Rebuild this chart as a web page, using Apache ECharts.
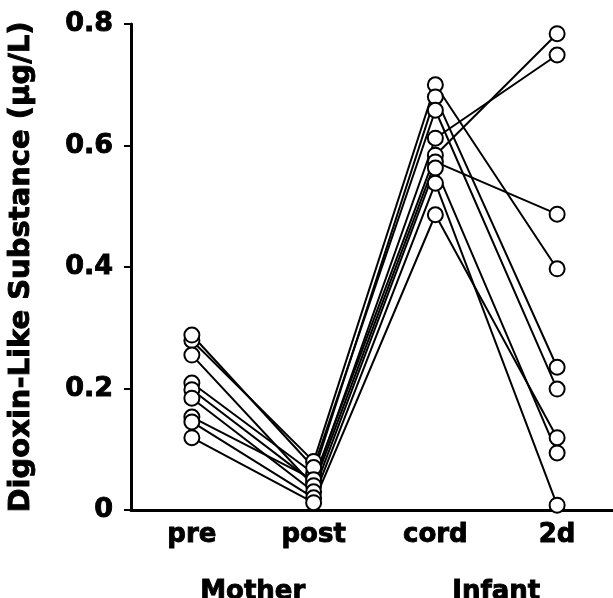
<!DOCTYPE html>
<html>
<head>
<meta charset="utf-8">
<script src="https://cdn.jsdelivr.net/npm/echarts@6/dist/echarts.min.js"></script>
<style>
  html, body { margin: 0; padding: 0; background: #fff; }
  #chart { width: 613px; height: 598px; }
</style>
</head>
<body>
<div id="chart"></div>
<script>
// categories
var categories = ['pre', 'post', 'cord', '2d'];
var groups = ['Mother', 'Infant'];

// one value per subject at each time point
var preVals  = [0.279, 0.209, 0.288, 0.198, 0.153, 0.255, 0.184, 0.145, 0.119];
var postVals = [0.080, 0.060, 0.070, 0.045, 0.050, 0.040, 0.030, 0.020, 0.012];
var cordVals = [0.700, 0.680, 0.658, 0.612, 0.584, 0.573, 0.563, 0.538, 0.486];
var day2Vals = [0.397, 0.235, 0.199, 0.749, 0.784, 0.487, 0.094, 0.008, 0.119];

// y axis ticks
var yMin = 0, yMax = 0.8, yStep = 0.2;

var FONT = 'DejaVu Sans';
// heavy black lettering like the original
var heavy = { color: '#000', fontFamily: FONT, fontWeight: 'bold', textBorderColor: '#000', textBorderWidth: 0.9 };

var chart = echarts.init(document.getElementById('chart'));

var series = [];
var points = [];
for (var i = 0; i < preVals.length; i++) {
    var row = [preVals[i], postVals[i], cordVals[i], day2Vals[i]];
    series.push({
        type: 'line',
        xAxisIndex: 0,
        data: row,
        showSymbol: false,
        symbol: 'none',
        z: 2,
        silent: true,
        lineStyle: { color: '#000', width: 2 }
    });
    for (var j = 0; j < row.length; j++) {
        points.push([j, row[j]]);
    }
}
// open circles on top of every line
series.push({
    type: 'scatter',
    xAxisIndex: 0,
    data: points,
    symbol: 'circle',
    symbolSize: 15,
    z: 5,
    itemStyle: { color: '#fff', borderColor: '#000', borderWidth: 2, opacity: 1 }
});

var option = {
    backgroundColor: '#fff',
    animation: false,
    grid: { left: 131, top: 24, width: 487, bottom: 88, containLabel: false, outerBoundsMode: 'none' },
    xAxis: [{
        type: 'category',
        data: categories,
        boundaryGap: true,
        axisLine: { lineStyle: { color: '#000', width: 3 } },
        axisTick: { show: false },
        axisLabel: Object.assign({ fontSize: 26, margin: 12 }, heavy),
        splitLine: { show: false }
    }, {
        type: 'category',
        data: groups,
        position: 'bottom',
        offset: 57,
        boundaryGap: true,
        axisLine: { show: false },
        axisTick: { show: false },
        axisLabel: Object.assign({ fontSize: 26, margin: 12 }, heavy),
        splitLine: { show: false }
    }],
    yAxis: {
        type: 'value',
        min: yMin,
        max: yMax,
        interval: yStep,
        name: 'Digoxin-Like Substance (μg/L)',
        nameLocation: 'middle',
        nameGap: 95,
        nameTextStyle: Object.assign({ fontSize: 29 }, heavy),
        axisLine: { show: true, lineStyle: { color: '#000', width: 3 } },
        axisTick: { show: true, length: 7, lineStyle: { color: '#000', width: 2 } },
        axisLabel: Object.assign({
            fontSize: 27, margin: 18,
            formatter: function (v) { return v === 0 ? '0' : v.toFixed(1); }
        }, heavy),
        splitLine: { show: false }
    },
    series: series
};

chart.setOption(option);
</script>
</body>
</html>
